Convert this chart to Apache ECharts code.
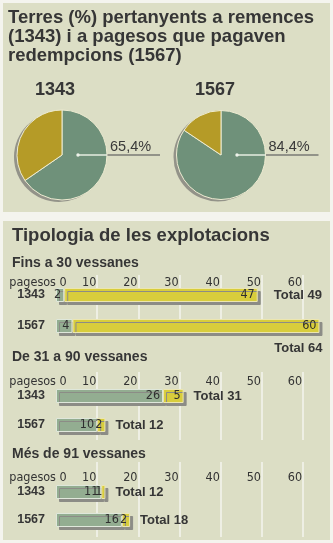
<!DOCTYPE html>
<html><head><meta charset="utf-8">
<script src="https://cdn.jsdelivr.net/npm/echarts@6/dist/echarts.min.js"></script>
<style>html,body{margin:0;padding:0;background:#f4f4ee}#c{width:333px;height:543px}</style>
</head><body><div id="c"></div>
<script>
// ---- data ----
const pieYears = ['1343', '1567'];
const pieShares = [65.4, 84.4];      // green share (%)
const pieRest = [34.6, 15.6];        // yellow share (%)
const rowYears = ['1343', '1567'];
const sections = ['Fins a 30 vessanes', 'De 31 a 90 vessanes', 'Més de 91 vessanes'];
const greenVals = [[2, 4], [26, 10], [11, 16]];
const yellowVals = [[47, 60], [5, 2], [1, 2]];
const totals = [[49, 64], [31, 12], [12, 18]];
const xTicks = [0, 10, 20, 30, 40, 50, 60];
const mainTitle = 'Terres (%) pertanyents a remences\n(1343) i a pagesos que pagaven\nredempcions (1567)';
const subTitle = 'Tipologia de les explotacions';
const axisWord = 'pagesos';

// ---- styles / layout ----
const BOLD = "'Liberation Sans', Arial, sans-serif";
const NARROW = "'Liberation Sans Narrow', 'DejaVu Sans Condensed', sans-serif";
const TXT = '#363636';
const PANEL = '#dcdec5';
const G_PIE = '#6f917a', Y_PIE = '#b59b27';
const G_BAR = '#93ad91', Y_BAR = '#d8cd3c';
const pieGeo = [{cx: 62, cy: 155, r: 45, tl: 35}, {cx: 221, cy: 155, r: 44.5, tl: 195}];
const AX_L = 56, AX_R = 333 - 303;
const secLayout = [
  {head: 256, lineTop: 275, lineBot: 336, labelMargin: 1, barTop: 279.5, barH: 62},
  {head: 350, lineTop: 372, lineBot: 440, labelMargin: 3, barTop: 381.5, barH: 58},
  {head: 447, lineTop: 462, lineBot: 537, labelMargin: 9, barTop: 478, barH: 56}
];

const titles = [
  {text: mainTitle, left: 8, top: 8, padding: 0,
   textStyle: {fontFamily: BOLD, fontWeight: 'bold', fontSize: 18.5, lineHeight: 19, color: TXT}},
  {text: subTitle, left: 12, top: 226, padding: 0,
   textStyle: {fontFamily: BOLD, fontWeight: 'bold', fontSize: 18.5, color: TXT}}
];
pieYears.forEach((y, i) => titles.push({text: y, left: pieGeo[i].tl, top: 81, padding: 0,
  textStyle: {fontFamily: BOLD, fontWeight: 'bold', fontSize: 18, color: TXT}}));
sections.forEach((s, i) => titles.push({text: s, left: 12, top: secLayout[i].head, padding: 0,
  textStyle: {fontFamily: BOLD, fontWeight: 'bold', fontSize: 14, color: TXT}}));

const grids = [], xAxes = [], yAxes = [], series = [];
const graphics = [
  {type: 'rect', z: -10, shape: {x: 3, y: 3, width: 327, height: 209}, style: {fill: PANEL}},
  {type: 'rect', z: -10, shape: {x: 3, y: 221, width: 327, height: 319}, style: {fill: PANEL}}
];

// pies
pieYears.forEach((y, i) => {
  const g = pieGeo[i];
  series.push({type: 'pie', silent: true, center: [g.cx - 3, g.cy + 2], radius: g.r, z: 1,
    label: {show: false}, labelLine: {show: false},
    data: [{value: 1, itemStyle: {color: '#939389'}}]});
  series.push({type: 'pie', silent: true, center: [g.cx, g.cy], radius: g.r, startAngle: 90, clockwise: true,
    avoidLabelOverlap: false, z: 2,
    itemStyle: {borderColor: '#eeecd2', borderWidth: 1},
    labelLayout: () => ({x: g.cx + g.r + 3, y: g.cy - 1, align: 'left', verticalAlign: 'bottom',
      labelLinePoints: [[g.cx + g.r, g.cy], [g.cx + g.r + 2, g.cy], [g.cx + g.r + 53, g.cy]]}),
    data: [
      {value: pieShares[i], itemStyle: {color: G_PIE},
       label: {show: true, position: 'outside', formatter: p => String(p.value).replace('.', ',') + '%',
               fontFamily: BOLD, fontSize: 14.5, color: '#3a3a3a'},
       labelLine: {show: true, lineStyle: {color: '#7a7a74', width: 1.5}}},
      {value: pieRest[i], itemStyle: {color: Y_PIE}, label: {show: false}, labelLine: {show: false}}
    ]});
  graphics.push({type: 'line', z: 50, shape: {x1: g.cx + 16, y1: g.cy, x2: g.cx + g.r, y2: g.cy},
    style: {stroke: '#e6eee2', lineWidth: 1.5}});
  graphics.push({type: 'circle', z: 50, shape: {cx: g.cx + 16, cy: g.cy, r: 1.7}, style: {fill: '#eef3ea'}});
});

// bar sections
sections.forEach((s, i) => {
  const L = secLayout[i];
  const ag = grids.length;
  grids.push({left: AX_L, right: AX_R, top: L.lineTop, height: L.lineBot - L.lineTop});
  xAxes.push({gridIndex: ag, type: 'value', position: 'top', min: xTicks[0], max: xTicks[xTicks.length - 1], interval: xTicks[1] - xTicks[0],
    axisLine: {show: false}, axisTick: {show: false},
    axisLabel: {inside: true, margin: L.labelMargin, verticalAlign: 'top', align: 'center',
      formatter: v => v === 0 ? '{z|' + axisWord + ' 0}' : '{n|' + v + '}',
      rich: {z: {padding: [0, 36, 0, 0], fontFamily: NARROW, fontSize: 12.5, color: '#333'},
             n: {padding: [0, 16, 0, 0], fontFamily: NARROW, fontSize: 12.5, color: '#333'}}},
    splitLine: {show: true, lineStyle: {color: xTicks.map((t, k) => k === 0 ? 'rgba(0,0,0,0)' : '#f4f4ee'), width: 1.5}}});
  yAxes.push({gridIndex: ag, type: 'value', show: false});

  const bg = grids.length;
  grids.push({left: AX_L, right: AX_R, top: L.barTop, height: L.barH});
  xAxes.push({gridIndex: bg, type: 'value', min: xTicks[0], max: xTicks[xTicks.length - 1], show: false});
  yAxes.push({gridIndex: bg, type: 'category', inverse: true, data: rowYears,
    axisLine: {show: false}, axisTick: {show: false}, splitLine: {show: false},
    axisLabel: {margin: 11, fontFamily: BOLD, fontWeight: 'bold', fontSize: 12.5, color: TXT}});

  const common = {type: 'bar', xAxisIndex: bg, yAxisIndex: bg, barWidth: 14, clip: false, silent: true};
  series.push(Object.assign({}, common, {stack: 's' + i, data: greenVals[i],
    itemStyle: {color: G_BAR, borderColor: '#dfe7db', borderWidth: 1,
      shadowColor: '#8c8c86', shadowOffsetX: 3, shadowOffsetY: 3, shadowBlur: 0},
    label: {show: true, position: 'insideRight', distance: 3, fontFamily: NARROW, fontSize: 12.5, color: '#2f2f2f'}}));
  series.push(Object.assign({}, common, {stack: 's' + i, data: yellowVals[i],
    itemStyle: {color: Y_BAR, borderColor: '#ece6b0', borderWidth: 1,
      shadowColor: '#8c8c86', shadowOffsetX: 3, shadowOffsetY: 3, shadowBlur: 0},
    label: {show: true, position: 'insideRight', distance: 3, fontFamily: NARROW, fontSize: 12.5, color: '#2f2f2f'}}));
  series.push(Object.assign({}, common, {barGap: '-100%', z: 5,
    data: totals[i].map((t, k) => {
      const d = {value: t};
      if (i === 0 && k === 1) d.label = {position: ['100%', 23], offset: [3, 0], align: 'right', verticalAlign: 'top'};
      else if (i === 0) d.label = {distance: 16};
      return d;
    }),
    itemStyle: {color: 'rgba(0,0,0,0)'},
    label: {show: true, position: 'right', distance: 10, formatter: p => 'Total ' + p.value,
      fontFamily: BOLD, fontWeight: 'bold', fontSize: 13, color: TXT}}));
});

const chart = echarts.init(document.getElementById('c'), null, {renderer: 'canvas'});
chart.setOption({
  animation: false,
  backgroundColor: '#f4f4ee',
  title: titles,
  grid: grids, xAxis: xAxes, yAxis: yAxes,
  graphic: graphics,
  series: series
});
</script></body></html>
